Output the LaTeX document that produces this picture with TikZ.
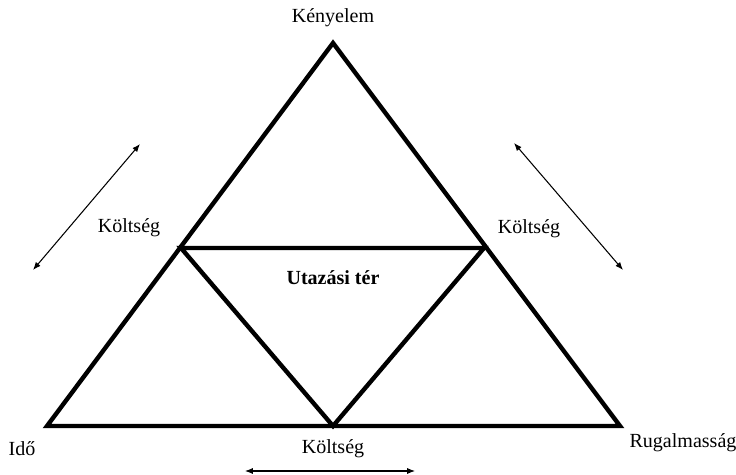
\documentclass[tikz,border=0pt]{standalone}
\usepackage{fontspec}
\setmainfont{Liberation Serif}
\usetikzlibrary{arrows.meta,positioning}

\tikzset{
  side/.style={line width=2.5pt},
  lbl/.style={font=\fontsize{11.4}{13}\selectfont, inner sep=1pt},
  costarrow/.style={line width=0.6pt, {Latex[length=4.5pt,width=3.5pt]}-{Latex[length=4.5pt,width=3.5pt]}}
}

\begin{document}
\begin{tikzpicture}[x=0.02cm,y=-0.02cm]
          \useasboundingbox (0,0) rectangle (736,475);

          % corners of the big triangle
          \coordinate (top) at (333, 43);
          \coordinate (bl) at (47, 426);
          \coordinate (br) at (620, 426);

          % corners of the inner triangle
          \coordinate (ml) at (181, 248);
          \coordinate (mr) at (484, 248);
          \coordinate (mb) at (333, 426);

          \draw[side] (top) -- (bl) -- (br) -- cycle;
          \draw[side] (ml) -- (mr) -- (mb) -- cycle;

          \node[lbl] (kenyelem) at (333, 18) {Kényelem};
          \node[lbl] (ido) at (22, 449) {Idő};
          \node[lbl] (rugalmas) at (683, 443) {Rugalmasság};
          \node[lbl] (koltsegL) at (129, 228) {Költség};
          \node[lbl] (koltsegR) at (529, 229) {Költség};
          \node[lbl] (koltsegB) at (333, 449) {Költség};
          \node[lbl, font=\fontsize{11.4}{13}\selectfont\bfseries] (ter) at (333, 278) {Utazási tér};

          % arrows
          \coordinate (la1) at (33, 270);
          \coordinate (la2) at (140, 144);
          \coordinate (ra1) at (514, 143);
          \coordinate (ra2) at (623, 270);
          \coordinate (ba1) at (245, 471);
          \coordinate (ba2) at (415, 471);

          \draw[costarrow] (la1) -- (la2);
          \draw[costarrow] (ra1) -- (ra2);
          \draw[costarrow] (ba1) -- (ba2);
\end{tikzpicture}
\end{document}
